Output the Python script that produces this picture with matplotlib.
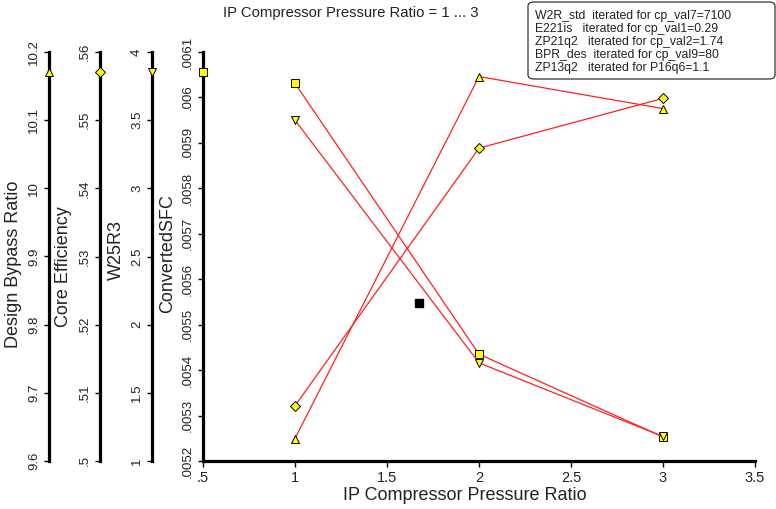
import matplotlib
matplotlib.use("Agg")
import matplotlib.pyplot as plt
from matplotlib.patches import FancyBboxPatch

plt.rcParams['font.family'] = ['Liberation Sans', 'DejaVu Sans']

# ---- data ----
x_ratio = [1, 2, 3]
bpr = [9.633, 10.164, 10.117]          # Design Bypass Ratio
core_eff = [0.5081, 0.5459, 0.5532]    # Core Efficiency
w25r3 = [3.50, 1.72, 1.18]             # W25R3
sfc = [0.006031, 0.005435, 0.005253]   # ConvertedSFC
design_x = [1.674]
design_sfc = [0.005548]

x_ticks = [0.5, 1, 1.5, 2, 2.5, 3, 3.5]
bpr_ticks = [9.6, 9.7, 9.8, 9.9, 10.0, 10.1, 10.2]
core_ticks = [0.50, 0.51, 0.52, 0.53, 0.54, 0.55, 0.56]
w25_ticks = [1, 1.5, 2, 2.5, 3, 3.5, 4]
sfc_ticks = [0.0052, 0.0053, 0.0054, 0.0055, 0.0056, 0.0057, 0.0058, 0.0059, 0.0060, 0.0061]

title = "IP Compressor Pressure Ratio = 1 ... 3"
xlabel = "IP Compressor Pressure Ratio"
legend_lines = [
    "W2R_std  iterated for cp_val7=7100",
    "E221is   iterated for cp_val1=0.29",
    "ZP21q2   iterated for cp_val2=1.74",
    "BPR_des  iterated for cp_val9=80",
    "ZP13q2   iterated for P16q6=1.1",
]


def fmt(v):
    s = f"{round(v, 6):g}"
    if s.startswith("0."):
        s = s[1:]
    return s


W, H = 776, 509
fig = plt.figure(figsize=(W / 100, H / 100), dpi=100)

L, R, T, B = 203, 755, 52, 461
rect = [L / W, 1 - B / H, (R - L) / W, (B - T) / H]
axw = R - L

TXT = '#222222'
SPW = 2.3
LINE = '#ff2020'
YEL = '#ffff00'
MS = {'^': 6, 'v': 6, 'D': 4.6, 's': 5.3}


def style_y(a, ticks, lo, hi, spine_px, label, label_px, label_py, marker):
    a.spines['left'].set_linewidth(SPW)
    if spine_px != L:
        a.spines['left'].set_position(('axes', (spine_px - L) / axw))
    a.set_ylim(lo, hi)
    a.set_yticks(ticks, [fmt(t) for t in ticks], rotation=90, va='center',
                 fontsize=9.5, color=TXT)
    a.tick_params(axis='y', direction='out', length=3.5, width=1, pad=3)
    fig.text(label_px / W, 1 - label_py / H, label, rotation=90, ha='center',
             va='center', fontsize=13, color=TXT)
    # series marker placed on its own axis line
    a.plot([(spine_px - L) / axw], [0.951], marker=marker, ms=MS[marker],
           mfc=YEL, mec='black', mew=0.7, transform=a.transAxes, clip_on=False,
           linestyle='none', zorder=10)


# main axis (ConvertedSFC)
ax = fig.add_axes(rect)
ax.set_xlim(0.5, 3.5)
for s in ['top', 'right']:
    ax.spines[s].set_visible(False)
ax.spines['bottom'].set_linewidth(SPW)
ax.set_xticks(x_ticks, [fmt(t) for t in x_ticks], fontsize=10.5, color=TXT)
ax.tick_params(axis='x', direction='out', length=4, width=1, pad=3)
style_y(ax, sfc_ticks, 0.0052, 0.0061, L, "ConvertedSFC", 168, 254, 's')

extra = [
    (bpr, bpr_ticks, 9.6, 10.2, 49, "Design Bypass Ratio", 14, 264, '^'),
    (core_eff, core_ticks, 0.5, 0.56, 100, "Core Efficiency", 64, 267, 'D'),
    (w25r3, w25_ticks, 1, 4, 152, "W25R3", 116, 250, 'v'),
]
axes = []
for vals, ticks, lo, hi, spx, lab, lpx, lpy, mk in extra:
    a = fig.add_axes(rect, sharex=ax)
    a.set_facecolor('none')
    for s in ['top', 'right', 'bottom']:
        a.spines[s].set_visible(False)
    a.tick_params(axis='x', bottom=False, labelbottom=False)
    style_y(a, ticks, lo, hi, spx, lab, lpx, lpy, mk)
    axes.append((a, vals, mk))

# series lines
for a, vals, mk in axes:
    a.plot(x_ratio, vals, color=LINE, lw=0.9, zorder=3)
    a.plot(x_ratio, vals, linestyle='none', marker=mk,
           ms=MS[mk], mfc=YEL, mec='black', mew=0.7, zorder=4)
ax.plot(x_ratio, sfc, color=LINE, lw=0.9, zorder=3)
ax.plot(x_ratio, sfc, linestyle='none', marker='s', ms=MS['s'], mfc=YEL,
        mec='black', mew=0.7, zorder=4)
ax.plot(design_x, design_sfc, linestyle='none', marker='s', ms=6.3,
        mfc='black', mec='black', zorder=5)

fig.text(351 / W, 1 - 13 / H, title, ha='center', va='center', fontsize=10.7, color=TXT)
fig.text(465 / W, 1 - 495 / H, xlabel, ha='center', va='center', fontsize=13, color=TXT)

# legend/info box
box = FancyBboxPatch((528 / W, 1 - 79 / H), (775 - 528) / W, (79 - 2) / H,
                     boxstyle="round,pad=0,rounding_size=0.008",
                     transform=fig.transFigure, facecolor='white',
                     edgecolor='#333333', lw=0.9)
fig.add_artist(box)
for i, line in enumerate(legend_lines):
    fig.text(535 / W, 1 - (16 + 13.1 * i) / H, line, ha='left', va='center',
             fontsize=8.8, color=TXT)

fig.savefig("out.png", dpi=100)
